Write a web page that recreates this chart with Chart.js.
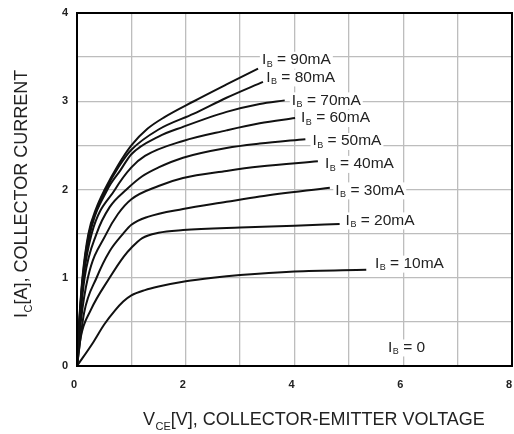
<!DOCTYPE html>
<html>
<head>
<meta charset="utf-8">
<script src="https://cdn.jsdelivr.net/npm/chart.js@4"></script>
<style>
  html, body { margin: 0; padding: 0; background: #fff; }
  #wrap { width: 514px; height: 434px; }
</style>
</head>
<body>
<div id="wrap"><canvas id="chart" width="514" height="434"></canvas></div>
<script>
/* Ic-Vce output characteristics, one curve per base current */

const FONT = '"Liberation Sans", Arial, Helvetica, sans-serif';

// ----- Data -----
const vce90 = [0, 0.04, 0.1, 0.21, 0.35, 0.51, 0.75, 1, 1.3, 1.61, 2.15, 2.75, 3.33];
const ic90  = [0, 0.5, 1.0, 1.5, 1.78, 2.0, 2.27, 2.5, 2.69, 2.82, 3.0, 3.19, 3.37];
const vce80 = [0, 0.042, 0.105, 0.22, 0.37, 0.53, 0.77, 1, 1.5, 2.15, 2.75, 3.42];
const ic80  = [0, 0.5, 1.0, 1.5, 1.78, 2.0, 2.26, 2.45, 2.68, 2.86, 3.04, 3.22];
const vce70 = [0, 0.045, 0.11, 0.24, 0.56, 0.8, 1, 1.5, 1.95, 2.75, 3.36, 3.82];
const ic70  = [0, 0.5, 1.0, 1.5, 2.0, 2.22, 2.4, 2.6, 2.71, 2.88, 2.97, 3.01];
const vce60 = [0, 0.05, 0.12, 0.27, 0.7, 1, 1.25, 1.95, 2.75, 3.36, 4.01];
const ic60  = [0, 0.5, 1.0, 1.5, 2.0, 2.25, 2.38, 2.55, 2.67, 2.75, 2.81];
const vce50 = [0, 0.055, 0.14, 0.36, 0.6, 0.91, 1.2, 1.5, 1.95, 2.75, 3.36, 4.2];
const ic50  = [0, 0.5, 1.0, 1.5, 1.8, 2.0, 2.15, 2.25, 2.36, 2.47, 2.52, 2.57];
const vce40 = [0, 0.07, 0.2, 0.54, 0.75, 1, 1.5, 1.95, 2.75, 3.36, 4.43];
const ic40  = [0, 0.5, 1.0, 1.5, 1.72, 1.89, 2.04, 2.13, 2.21, 2.26, 2.32];
const vce30 = [0, 0.13, 0.36, 0.6, 0.85, 1, 1.3, 1.95, 2.75, 3.36, 4.65];
const ic30  = [0, 0.6, 1.0, 1.3, 1.5, 1.6, 1.69, 1.78, 1.86, 1.92, 2.02];
const vce20 = [0, 0.07, 0.25, 0.6, 0.86, 1, 1.2, 1.5, 1.95, 3, 4, 4.83];
const ic20  = [0, 0.33, 0.63, 1.0, 1.24, 1.34, 1.45, 1.51, 1.54, 1.57, 1.59, 1.61];
const vce10 = [0, 0.3, 0.5, 0.7, 0.85, 1, 1.25, 1.5, 2, 2.5, 3, 4, 5.32];
const ic10  = [0, 0.27, 0.47, 0.63, 0.73, 0.8, 0.86, 0.9, 0.96, 1.0, 1.03, 1.07, 1.09];

const curvesV = [vce90, vce80, vce70, vce60, vce50, vce40, vce30, vce20, vce10];
const curvesI = [ic90, ic80, ic70, ic60, ic50, ic40, ic30, ic20, ic10];

// curve labels "I_B = ..." and where they sit (data units, left edge / middle)
const labelText = [" = 90mA", " = 80mA", " = 70mA", " = 60mA", " = 50mA",
                   " = 40mA", " = 30mA", " = 20mA", " = 10mA", " = 0"];
const labelV = [3.40, 3.48, 3.95, 4.12, 4.33, 4.56, 4.75, 4.94, 5.48, 5.72];
const labelI = [3.47, 3.27, 3.01, 2.81, 2.55, 2.29, 1.99, 1.65, 1.16, 0.21];

const xTickLabels = [0, 2, 4, 6, 8];
const yTickLabels = [0, 1, 2, 3, 4];

// ----- Helpers -----
// draws main text + subscript + rest, returns total width
function subText(ctx, x, y, main, sub, rest, size) {
  ctx.font = `${size}px ${FONT}`;
  ctx.fillText(main, x, y);
  let w = ctx.measureText(main).width + 0.5;
  ctx.font = `${Math.round(size * 0.6)}px ${FONT}`;
  ctx.fillText(sub, x + w, y + size * 0.28);
  w += ctx.measureText(sub).width;
  ctx.font = `${size}px ${FONT}`;
  ctx.fillText(rest, x + w, y);
  return w + ctx.measureText(rest).width;
}

const overlay = {
  id: "overlay",
  afterDatasetsDraw(chart) {
    const { ctx, scales } = chart;
    ctx.save();
    ctx.textBaseline = "middle";
    ctx.textAlign = "left";
    const size = 15.5;
    for (let i = 0; i < labelText.length; i++) {
      const x = scales.x.getPixelForValue(labelV[i]);
      const y = scales.y.getPixelForValue(labelI[i]);
      // measure first, then clear a white box behind the label
      ctx.fillStyle = "rgba(0,0,0,0)";
      const w = subText(ctx, x, y, "I", "B", labelText[i], size);
      ctx.fillStyle = "#fff";
      ctx.fillRect(x - 2, y - 8, w + 4, 17);
      ctx.fillStyle = "#222";
      subText(ctx, x, y, "I", "B", labelText[i], size);
    }
    ctx.restore();
  },
  afterDraw(chart) {
    const { ctx, chartArea: a } = chart;
    ctx.save();
    ctx.strokeStyle = "#000";
    ctx.lineWidth = 2;
    ctx.strokeRect(a.left, a.top, a.right - a.left, a.bottom - a.top);

    ctx.fillStyle = "#222";
    ctx.textBaseline = "alphabetic";
    ctx.textAlign = "left";
    // x axis title
    subText(ctx, 143, 425, "V", "CE", "[V], COLLECTOR-EMITTER VOLTAGE", 18);
    // y axis title (rotated)
    ctx.translate(27, 318);
    ctx.rotate(-Math.PI / 2);
    subText(ctx, 0, 0, "I", "C", "[A], COLLECTOR CURRENT", 18);
    ctx.restore();
  }
};

// ----- Chart -----
const datasets = curvesV.map((vs, k) => ({
  data: vs.map((v, j) => ({ x: v, y: curvesI[k][j] })),
  borderColor: "#111",
  borderWidth: 2,
  pointRadius: 0,
  fill: false,
  cubicInterpolationMode: "monotone",
}));

new Chart(document.getElementById("chart"), {
  type: "line",
  data: { datasets },
  plugins: [overlay],
  options: {
    responsive: false,
    animation: false,
    devicePixelRatio: 1,
    layout: { padding: { left: 0, top: 13, right: 2, bottom: 0 } },
    plugins: { legend: { display: false }, tooltip: { enabled: false } },
    scales: {
      x: {
        type: "linear", min: 0, max: 8,
        afterFit: (s) => { s.height = 68; s.paddingLeft = 0; s.paddingRight = 0; },
        border: { display: false },
        grid: { color: "#bdbdbd", lineWidth: 1.3, drawTicks: false },
        ticks: {
          stepSize: 1, padding: 12, labelOffset: -3, color: "#222",
          font: { family: FONT, size: 11, weight: "bold" },
          callback: (v) => xTickLabels.includes(v) ? String(v) : "",
        },
      },
      y: {
        min: 0, max: 4,
        afterFit: (s) => { s.width = 77; s.paddingTop = 0; s.paddingBottom = 0; },
        border: { display: false },
        grid: { color: "#bdbdbd", lineWidth: 1.3, drawTicks: false },
        ticks: {
          stepSize: 0.5, padding: 9, color: "#222",
          font: { family: FONT, size: 11, weight: "bold" },
          callback: (v) => yTickLabels.includes(v) ? String(v) : "",
        },
      },
    },
  },
});
</script>
</body>
</html>
